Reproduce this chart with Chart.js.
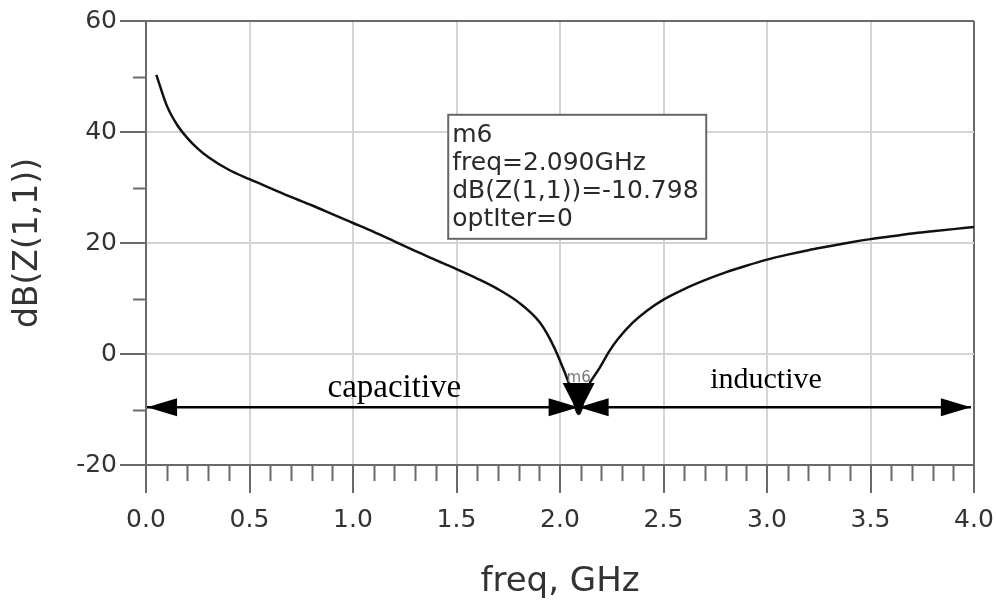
<!DOCTYPE html>
<html>
<head>
<meta charset="utf-8">
<script src="https://cdn.jsdelivr.net/npm/chart.js@4.4.1/dist/chart.umd.min.js"></script>
<style>
  html, body { margin: 0; padding: 0; background: #fff; }
  #wrap { width: 996px; height: 601px; }
</style>
</head>
<body>
<div id="wrap"><canvas id="zChart" width="996" height="601"></canvas></div>
<script>
// curve
const freqGHz = [0.05, 0.1, 0.15, 0.2, 0.25, 0.3, 0.4, 0.5, 0.6, 0.7, 0.8, 0.9, 1.0, 1.1, 1.2, 1.3, 1.4, 1.5, 1.6, 1.7, 1.8, 1.9, 1.95, 2.0, 2.05, 2.09, 2.13, 2.19, 2.24, 2.28, 2.35, 2.42, 2.5, 2.6, 2.7, 2.8, 2.9, 3.0, 3.1, 3.2, 3.3, 3.4, 3.5, 3.6, 3.7, 3.8, 3.9, 4.0];
const dbZ11   = [50.3, 44.8, 41.3, 38.9, 37.0, 35.5, 33.2, 31.5, 29.9, 28.3, 26.8, 25.2, 23.6, 22.0, 20.3, 18.6, 16.9, 15.3, 13.6, 11.7, 9.3, 5.8, 2.8, -1.2, -6.0, -10.8, -6.2, -2.6, 0.6, 2.7, 5.6, 7.8, 9.8, 11.7, 13.3, 14.7, 15.9, 17.0, 17.9, 18.7, 19.4, 20.1, 20.7, 21.2, 21.7, 22.1, 22.5, 22.9];

// marker m6
const markerName = "m6";
const markerFreq = 2.090;
const markerDb = -10.798;
const markerLines = ["m6", "freq=2.090GHz", "dB(Z(1,1))=-10.798", "optIter=0"];

// tick labels
const xTickLabels = ["0.0", "0.5", "1.0", "1.5", "2.0", "2.5", "3.0", "3.5", "4.0"];
const yTickLabels = ["-20", "0", "20", "40", "60"];

const regionLabels = ["capacitive", "inductive"];
const arrowDb = -9.6;

const isMajorX = v => Math.abs(v * 2 - Math.round(v * 2)) < 1e-6;
const isMajorY = v => Math.abs(v / 20 - Math.round(v / 20)) < 1e-6;

const GRID = "#d4d4d4";
const AXIS = "#6a6a6a";

const annotations = {
    id: "annotations",
    afterDatasetsDraw(chart) {
        const ctx = chart.ctx;
        const xs = chart.scales.x, ys = chart.scales.y;
        const area = chart.chartArea;
        ctx.save();

        // minor ticks
        ctx.strokeStyle = AXIS;
        ctx.lineWidth = 2;
        for (let i = 1; i < 40; i++) {
            const v = i / 10;
            if (isMajorX(v)) continue;
            const px = Math.round(xs.getPixelForValue(v)) + 0.5;
            ctx.beginPath();
            ctx.moveTo(px, area.bottom);
            ctx.lineTo(px, area.bottom + 16);
            ctx.stroke();
        }
        for (let v = -10; v < 60; v += 20) {
            const py = Math.round(ys.getPixelForValue(v)) + 0.5;
            ctx.beginPath();
            ctx.moveTo(area.left - 13, py);
            ctx.lineTo(area.left, py);
            ctx.stroke();
        }

        // arrows
        const ay = ys.getPixelForValue(arrowDb);
        const mx = xs.getPixelForValue(markerFreq);
        const x0 = xs.getPixelForValue(0.005);
        const x1 = xs.getPixelForValue(3.985);
        ctx.strokeStyle = "#000";
        ctx.fillStyle = "#000";
        ctx.lineWidth = 2.5;
        ctx.beginPath();
        ctx.moveTo(x0, ay);
        ctx.lineTo(x1, ay);
        ctx.stroke();
        const head = (tipX, dir) => {
            ctx.beginPath();
            ctx.moveTo(tipX, ay);
            ctx.lineTo(tipX - dir * 30, ay - 9);
            ctx.lineTo(tipX - dir * 30, ay + 9);
            ctx.closePath();
            ctx.fill();
        };
        head(x0, -1);
        head(mx, 1);
        head(mx, -1);
        head(x1, 1);

        // marker triangle
        const my = ys.getPixelForValue(markerDb);
        ctx.beginPath();
        ctx.moveTo(mx, my);
        ctx.lineTo(mx - 16, my - 31);
        ctx.lineTo(mx + 16, my - 31);
        ctx.closePath();
        ctx.fill();
        ctx.fillStyle = "#777";
        ctx.font = "15px 'DejaVu Sans'";
        ctx.textAlign = "center";
        ctx.textBaseline = "alphabetic";
        ctx.fillText(markerName, mx, my - 32);

        // region labels
        ctx.fillStyle = "#000";
        ctx.font = "33px 'Liberation Serif'";
        ctx.fillText(regionLabels[0], xs.getPixelForValue(1.2), ay - 10);
        ctx.font = "30px 'Liberation Serif'";
        ctx.fillText(regionLabels[1], xs.getPixelForValue(2.995), ay - 19);

        // marker readout box
        const bx = xs.getPixelForValue(1.46), by = ys.getPixelForValue(43.1);
        ctx.strokeStyle = "#666";
        ctx.lineWidth = 2;
        ctx.fillStyle = "#fff";
        ctx.fillRect(bx, by, 258, 124);
        ctx.strokeRect(bx, by, 258, 124);
        ctx.fillStyle = "#2a2a2a";
        ctx.font = "25px 'DejaVu Sans'";
        ctx.textAlign = "left";
        markerLines.forEach((t, i) => ctx.fillText(t, bx + 4, by + 27 + i * 28));

        ctx.restore();
    }
};

new Chart(document.getElementById("zChart"), {
    type: "line",
    data: {
        datasets: [{
            data: freqGHz.map((f, i) => ({ x: f, y: dbZ11[i] })),
            borderColor: "#111",
            borderWidth: 2.5,
            pointRadius: 0,
            tension: 0.4,
            cubicInterpolationMode: "monotone",
            fill: false
        }]
    },
    options: {
        responsive: false,
        animation: false,
        layout: { padding: { top: 21, right: 22, left: 0, bottom: 0 } },
        plugins: { legend: { display: false }, tooltip: { enabled: false } },
        scales: {
            x: {
                type: "linear",
                min: 0, max: 4,
                afterFit(s) { s.height = 136; s.paddingLeft = 0; s.paddingRight = 0; },
                ticks: {
                    stepSize: 0.1,
                    autoSkip: false,
                    maxRotation: 0,
                    padding: 12,
                    color: "#333",
                    font: { family: "'DejaVu Sans'", size: 25 },
                    callback: v => isMajorX(v) ? xTickLabels[Math.round(v * 2)] : ""
                },
                grid: {
                    lineWidth: 2,
                    tickLength: 28,
                    color: c => {
                        const v = c.tick ? c.tick.value : 0;
                        if (Math.abs(v - 4) < 1e-6) return AXIS;
                        return isMajorX(v) ? GRID : "rgba(0,0,0,0)";
                    },
                    tickColor: c => (c.tick && isMajorX(c.tick.value)) ? AXIS : "rgba(0,0,0,0)"
                },
                border: { color: AXIS, width: 2 },
                title: {
                    display: true,
                    text: "freq, GHz",
                    color: "#333",
                    font: { family: "'DejaVu Sans'", size: 34 },
                    padding: { top: 0, bottom: -2 }
                }
            },
            y: {
                min: -20, max: 60,
                afterFit(s) { s.width = 146; s.paddingTop = 0; s.paddingBottom = 0; },
                ticks: {
                    stepSize: 10,
                    autoSkip: false,
                    padding: 3,
                    color: "#333",
                    font: { family: "'DejaVu Sans'", size: 25 },
                    callback: v => isMajorY(v) ? yTickLabels[Math.round((v + 20) / 20)] : ""
                },
                grid: {
                    lineWidth: 2,
                    tickLength: 26,
                    color: c => {
                        const v = c.tick ? c.tick.value : 0;
                        if (v === 60) return AXIS;
                        return isMajorY(v) ? GRID : "rgba(0,0,0,0)";
                    },
                    tickColor: c => (c.tick && isMajorY(c.tick.value)) ? AXIS : "rgba(0,0,0,0)"
                },
                border: { color: AXIS, width: 2 },
                title: {
                    display: true,
                    text: "dB(Z(1,1))",
                    color: "#333",
                    font: { family: "'DejaVu Sans'", size: 33 },
                    padding: { top: 9, bottom: 0 }
                }
            }
        }
    },
    plugins: [annotations]
});
</script>
</body>
</html>
